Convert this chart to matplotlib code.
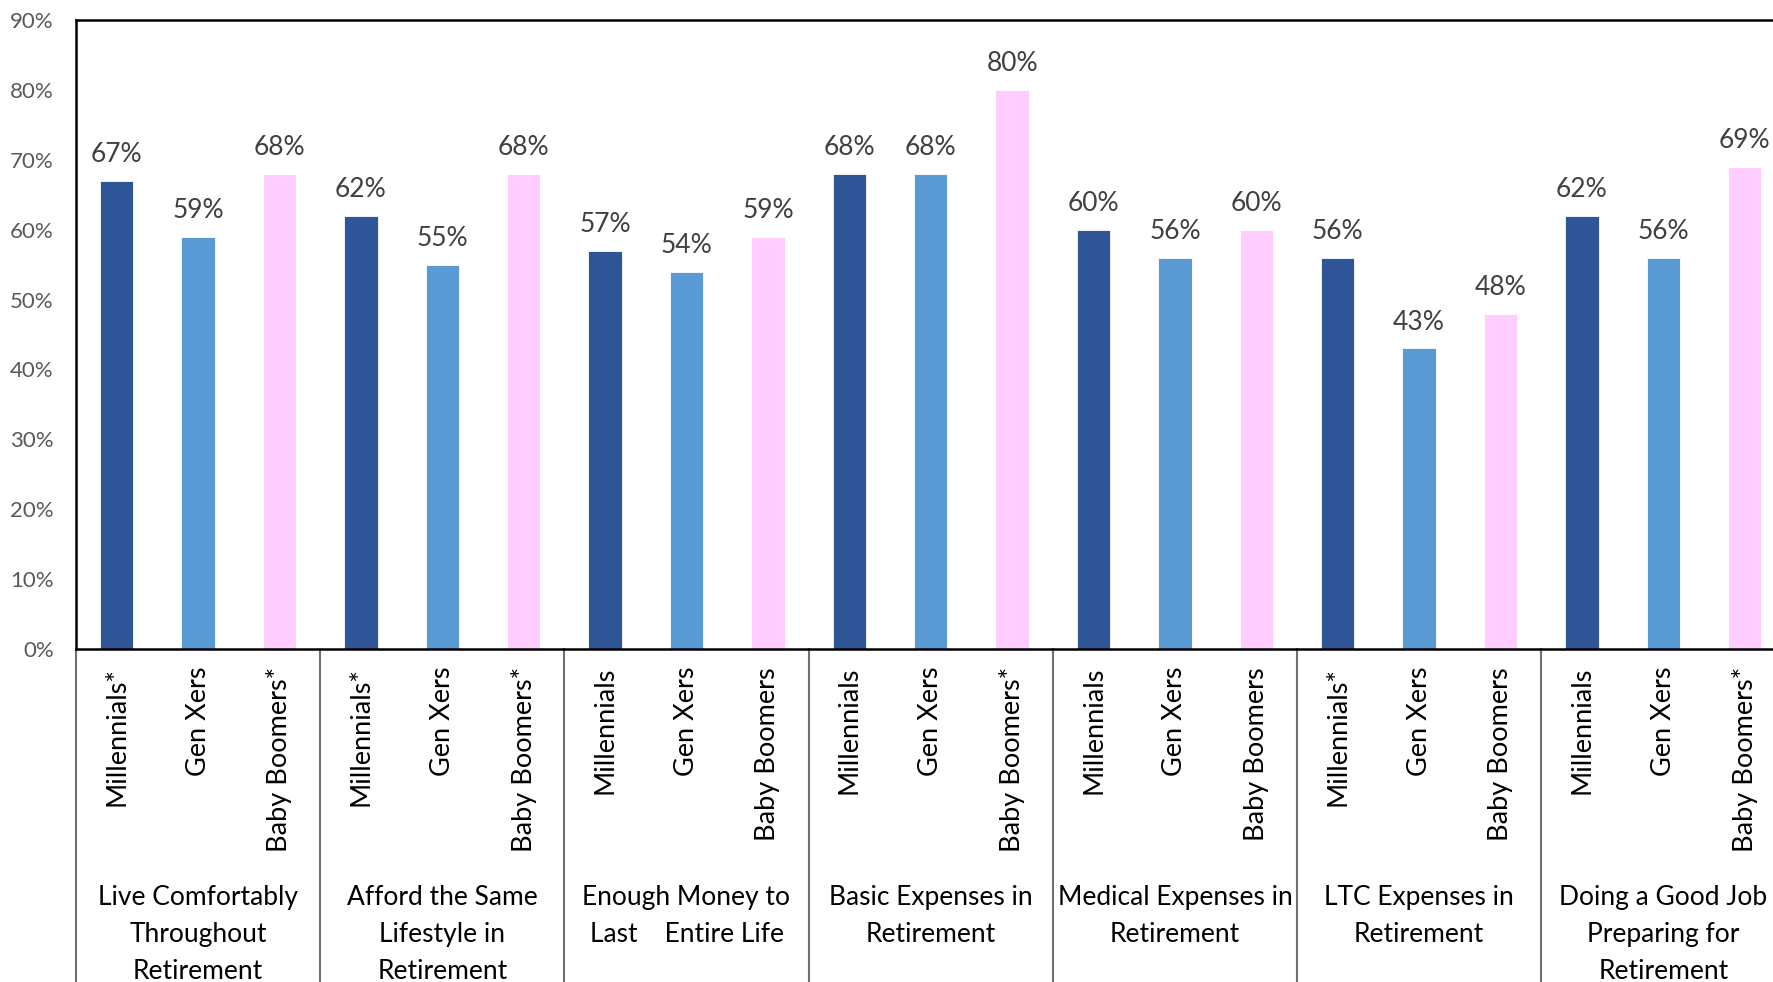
import numpy as np
import matplotlib
matplotlib.use("Agg")
import matplotlib.pyplot as plt

groups = ["Live Comfortably\nThroughout\nRetirement",
          "Afford the Same\nLifestyle in\nRetirement",
          "Enough Money to\nLast    Entire Life",
          "Basic Expenses in\nRetirement",
          "Medical Expenses in\nRetirement",
          "LTC Expenses in\nRetirement",
          "Doing a Good Job\nPreparing for\nRetirement"]
millennials = [67, 62, 57, 68, 60, 56, 62]
gen_xers = [59, 55, 54, 68, 56, 43, 56]
boomers = [68, 68, 59, 80, 60, 48, 69]
bar_labels = [["Millennials*", "Gen Xers", "Baby Boomers*"],
              ["Millennials*", "Gen Xers", "Baby Boomers*"],
              ["Millennials", "Gen Xers", "Baby Boomers"],
              ["Millennials", "Gen Xers", "Baby Boomers*"],
              ["Millennials", "Gen Xers", "Baby Boomers"],
              ["Millennials*", "Gen Xers", "Baby Boomers"],
              ["Millennials", "Gen Xers", "Baby Boomers*"]]
colors = ["#2F5597", "#5B9BD5", "#FFCCFF"]

plt.rcParams['font.family'] = ['Lato', 'DejaVu Sans']

W, H = 1774, 982
fig = plt.figure(figsize=(W / 100, H / 100), dpi=100)
left, bottom, top = 76, 333, 962
ax = fig.add_axes([left / W, bottom / H, 1 - left / W, (top - bottom) / H])

slot = 81.4
ax.set_xlim(-0.5, -0.5 + (W - left) / slot)
ax.set_ylim(0, 90)

series = [millennials, gen_xers, boomers]
for k, vals in enumerate(series):
    x = np.arange(len(groups)) * 3 + k
    ax.bar(x, vals, width=0.41, color=colors[k], edgecolor="white", linewidth=0.6)
    for xi, v in zip(x, vals):
        ax.annotate(f"{v}%", (xi, v), xytext=(0, 10), textcoords="offset points",
                    ha="center", va="bottom", fontsize=19, color="#404040")

ax.set_yticks(np.arange(0, 91, 10))
ax.set_yticklabels([f"{t}%" for t in range(0, 91, 10)], fontsize=16, color="#595959")
ax.tick_params(axis="y", length=0, pad=16)
ax.set_xticks([])
ax.spines["right"].set_visible(False)
for s in ["left", "top", "bottom"]:
    ax.spines[s].set_linewidth(1.8)
    ax.spines[s].set_color("black")

tr = ax.get_xaxis_transform()
ybot = -bottom / (top - bottom)
for g in range(len(groups) + 1):
    xs = g * 3 - 0.5
    ax.plot([xs, xs], [0, ybot], transform=tr, color="#6f6f6f", lw=1.5, clip_on=False)

for g, name in enumerate(groups):
    for k in range(3):
        ax.text(g * 3 + k, -18 / (top - bottom), bar_labels[g][k], transform=tr,
                rotation=90, ha="center", va="top", fontsize=19.5, color="black")
    ax.text(g * 3 + 1, -(885 - 649) / (top - bottom), name, transform=tr,
            ha="center", va="top", fontsize=19, color="black", linespacing=1.6)

fig.savefig("out.png", dpi=100)
